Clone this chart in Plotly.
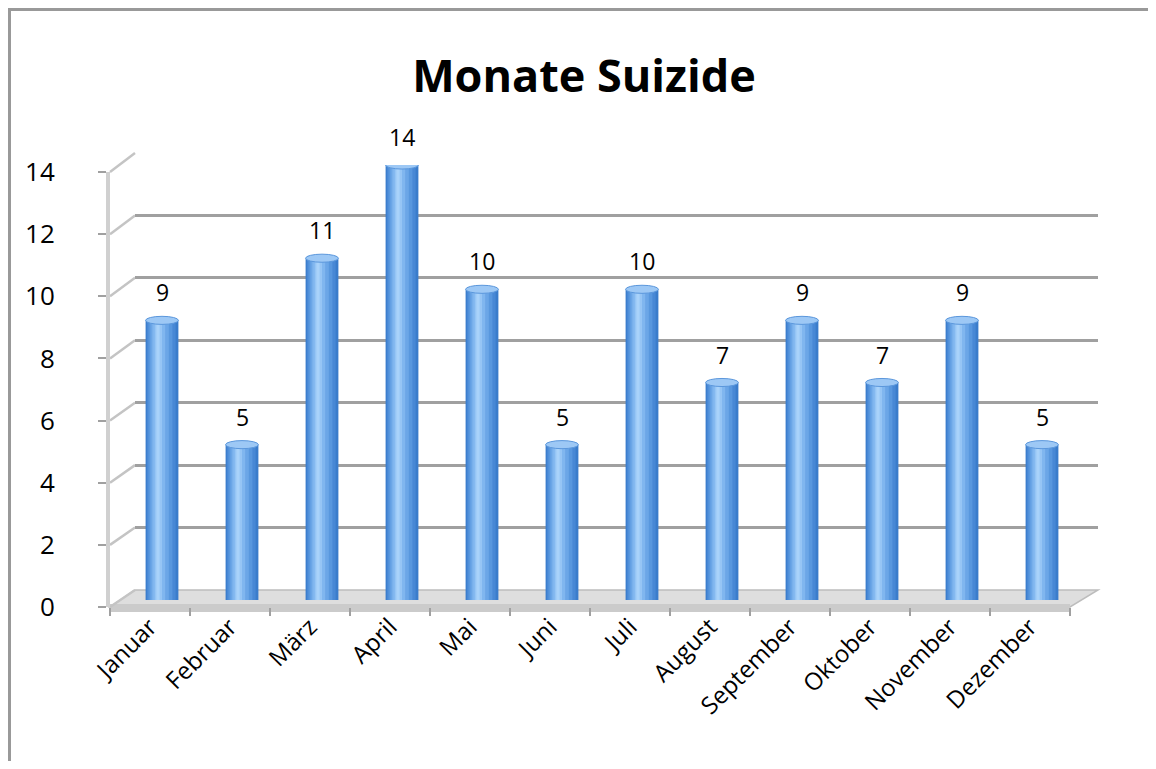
import plotly.graph_objects as go

W, H = 1140, 753  # page viewport minus the 8px body margin on each side
OFF = 8  # the page body margin shifts the figure by 8px

months = ["Januar", "Februar", "März", "April", "Mai", "Juni", "Juli",
          "August", "September", "Oktober", "November", "Dezember"]
suizide = [9, 5, 11, 14, 10, 5, 10, 7, 9, 7, 9, 5]
y_ticks = [0, 2, 4, 6, 8, 10, 12, 14]

FONT = "Open Sans"


def fx(px):
    return (px - OFF) / W


def fy(py):
    return 1 - (py - OFF) / H


# pixel frames of the three layers (back wall, bars, front axes)
back = dict(x=(135, 1098), y=(590, 153))
mid = dict(x=(122, 1082), y=(600, 165))
front = dict(x=(110, 1070), y=(607, 172))

fig = go.Figure()

# cylinder shading: overlaid bars, narrower and lighter towards the highlight
layers = [
    (0.41, 0.00, "#3a7ccb"),
    (0.36, -0.01, "#4888d5"),
    (0.30, -0.02, "#5897de"),
    (0.23, -0.03, "#6ba6e7"),
    (0.16, -0.04, "#80b6ef"),
    (0.09, -0.045, "#96c5f5"),
    (0.04, -0.05, "#a9d2fa"),
]
for w, s, c in layers:
    fig.add_trace(go.Bar(
        x=months, y=suizide, width=w, offset=-w / 2 + s,
        marker=dict(color=c, line=dict(width=0)),
        xaxis="x2", yaxis="y2", hoverinfo="skip", showlegend=False,
    ))

# invisible traces to hold the front and back axes
fig.add_trace(go.Scatter(x=months, y=[None] * len(months), xaxis="x3", yaxis="y3",
                         mode="markers", showlegend=False, hoverinfo="skip"))
fig.add_trace(go.Scatter(x=[0, 1], y=[None, None], xaxis="x", yaxis="y",
                         mode="markers", showlegend=False, hoverinfo="skip"))

shapes = []
# border of the chart frame (top and left)
shapes.append(dict(type="line", xref="paper", yref="paper", x0=fx(8), x1=1, y0=fy(9.5), y1=fy(9.5),
                   line=dict(color="#999999", width=3)))
shapes.append(dict(type="line", xref="paper", yref="paper", x0=fx(9.5), x1=fx(9.5), y0=fy(8), y1=0,
                   line=dict(color="#999999", width=3)))

# floor
fb, ff = back["y"][0], front["y"][0]
shapes.append(dict(type="path", xref="paper", yref="paper", layer="below",
                   path=f"M {fx(front['x'][0])},{fy(ff)} L {fx(front['x'][1])},{fy(ff)} "
                        f"L {fx(back['x'][1])},{fy(fb)} L {fx(back['x'][0])},{fy(fb)} Z",
                   fillcolor="#dedede", line=dict(color="#bdbdbd", width=1.5)))
shapes.append(dict(type="rect", xref="paper", yref="paper", layer="below",
                   x0=fx(front['x'][0]), x1=fx(front['x'][1]), y0=fy(ff + 5), y1=fy(ff - 3),
                   fillcolor="#cbcbcb", line=dict(width=0)))

# wall diagonals joining front axis ticks to back gridlines
for v in y_ticks:
    yf = front["y"][0] + (front["y"][1] - front["y"][0]) * v / 14
    yb = back["y"][0] + (back["y"][1] - back["y"][0]) * v / 14
    shapes.append(dict(type="line", xref="paper", yref="paper", layer="below",
                       x0=fx(front["x"][0]), y0=fy(yf), x1=fx(back["x"][0]), y1=fy(yb),
                       line=dict(color="#c4c4c4", width=2.5)))

# top caps of the cylinders
for i, v in enumerate(suizide):
    shapes.append(dict(type="circle", xref="x2", yref="y2",
                       x0=i - 0.205, x1=i + 0.205, y0=v - 0.13, y1=v + 0.13,
                       fillcolor="#9dc8f5", line=dict(color="#5b97dc", width=1)))

annotations = [dict(x=m, y=v, xref="x2", yref="y2", text=str(v), showarrow=False,
                    yshift=28, font=dict(family=FONT, size=23, color="#000000"))
               for m, v in zip(months, suizide)]

fig.update_layout(
    template="none",
    width=W, height=H, autosize=False,
    margin=dict(l=0, r=0, t=0, b=0, pad=0),
    paper_bgcolor="white", plot_bgcolor="rgba(0,0,0,0)",
    barmode="overlay", showlegend=False,
    title=dict(text="<b>Monate Suizide</b>", x=fx(584), xanchor="center", y=fy(76), yanchor="middle",
               font=dict(family=FONT, size=45, color="#000000")),
    shapes=shapes, annotations=annotations,
    xaxis=dict(domain=[fx(back["x"][0]), fx(back["x"][1])], range=[0, 1], visible=False,
               automargin=False, anchor="y"),
    yaxis=dict(domain=[fy(back["y"][0]), fy(back["y"][1])], range=[0, 14], dtick=2,
               showgrid=True, gridcolor="#a0a0a0", gridwidth=3, zeroline=False,
               showticklabels=False, showline=False, ticks="", automargin=False, anchor="x"),
    xaxis2=dict(domain=[fx(mid["x"][0]), fx(mid["x"][1])], type="category",
                range=[-0.5, 11.5], visible=False, automargin=False, anchor="y2"),
    yaxis2=dict(domain=[fy(mid["y"][0]), fy(mid["y"][1])], range=[0, 14], visible=False,
                automargin=False, anchor="x2"),
    xaxis3=dict(domain=[fx(front["x"][0]), fx(front["x"][1])], type="category",
                range=[-0.5, 11.5], tickangle=-45, tickson="boundaries",
                ticks="outside", ticklen=8, tickwidth=2, tickcolor="#a0a0a0",
                showgrid=False, showline=False, zeroline=False, automargin=False,
                tickfont=dict(family=FONT, size=24, color="#000000"), anchor="y3"),
    yaxis3=dict(domain=[fy(front["y"][0]), fy(front["y"][1])], range=[0, 14],
                tickvals=y_ticks, ticks="outside", ticklen=8, tickwidth=2, tickcolor="#a0a0a0",
                showgrid=False, zeroline=False, showline=True, linecolor="#d0d0d0", linewidth=4,
                ticklabelstandoff=38, automargin=False,
                tickfont=dict(family=FONT, size=26, color="#000000"), anchor="x3"),
)

fig.write_html("out.html")
